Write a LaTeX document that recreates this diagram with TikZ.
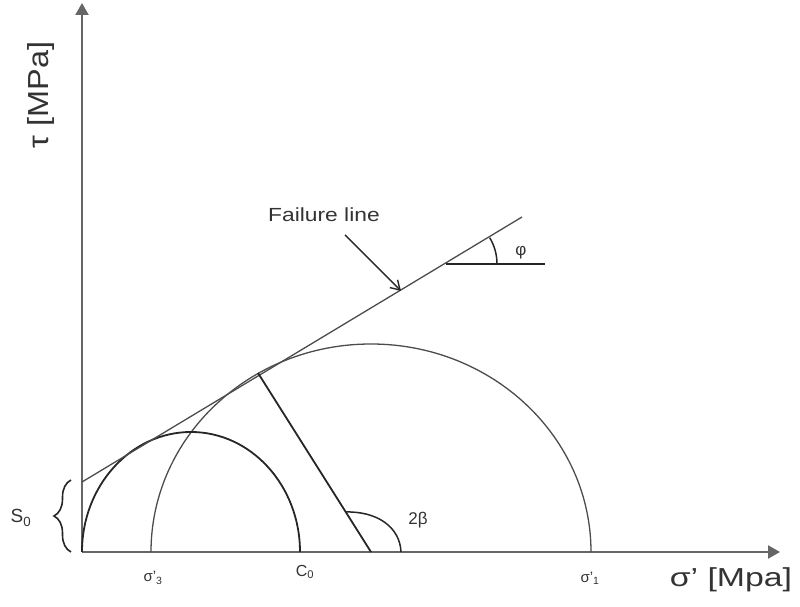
\documentclass[tikz,border=0pt]{standalone}
\usepackage{fontspec}
\setmainfont{Liberation Sans}
\usetikzlibrary{arrows.meta,decorations.pathreplacing}
\begin{document}
\begin{tikzpicture}[x=1pt,y=1pt,
  axis/.style={draw=black!60,line width=2.2pt},
  thin/.style={draw=black!70,line width=1.3pt},
  dark/.style={draw=black!85,line width=1.8pt},
  lbl/.style={inner sep=0pt,text=black!80}]
\useasboundingbox (0,0) rectangle (800,607);
% axes
\coordinate (O) at (82,55);
\coordinate (Ytop) at (82,604);
\coordinate (Xend) at (780,55);
\draw[axis,-{Triangle[length=12pt,width=13pt]}] (O) -- (Xend);
\draw[axis,-{Triangle[length=12pt,width=13pt]}] (O) -- (Ytop);
% circles
\coordinate (Cs) at (191,55);
\coordinate (Cb) at (371,55);
\draw[thin] (Cb) ++(220,0) arc[start angle=0,end angle=180,x radius=220,y radius=208];
\draw[dark] (Cs) ++(109,0) arc[start angle=0,end angle=180,x radius=109,y radius=120];
% failure line
\coordinate (FA) at (82,125);
\coordinate (FB) at (522,390);
\draw[thin] (FA) -- (FB);
% radius to tangent point
\coordinate (T) at (258,234);
\draw[dark] (T) -- (Cb);
% 2beta arc
\coordinate (Ba) at (401,55);
\coordinate (Bb) at (345,95);
\draw[dark,line width=1.5pt] (Ba) .. controls (400,80) and (377,96) .. (Bb);
\node[lbl,font=\fontsize{17}{17}\selectfont] (beta) at (418,87) {2β};
% phi
\coordinate (P) at (446,343);
\coordinate (Pe) at (545,343);
\draw[dark,line width=1.5pt] (P) -- (Pe);
\draw[dark,line width=1.5pt] (497,343) arc[start angle=0,end angle=31,radius=51];
\node[lbl,font=\fontsize{17}{17}\selectfont] (phi) at (521,354) {φ};
% failure line label and arrow
\node[lbl,font=\fontsize{19}{19}\selectfont] (fl) at (324,392) {\scalebox{1.2}[1]{Failure line}};
\coordinate (fa1) at (345,372);
\coordinate (fa2) at (401,316);
\draw[dark,line width=1.4pt,-{Straight Barb[length=9pt,width=11pt]}] (fa1) -- (fa2);
% S0 brace
\coordinate (sb1) at (71,55);
\coordinate (sb2) at (71,127);
\draw[dark,line width=1.6pt,decorate,decoration={brace,amplitude=17pt}] (sb1) -- (sb2);
\node[lbl,font=\fontsize{19}{19}\selectfont] (S0) at (21,89) {S\textsubscript{0}};
% axis labels
\node[lbl,font=\fontsize{15}{15}\selectfont] (s3) at (153,29) {σ’\textsubscript{3}};
\node[lbl,font=\fontsize{16}{16}\selectfont] (c0) at (305,35) {C\textsubscript{0}};
\node[lbl,font=\fontsize{15}{15}\selectfont] (s1) at (590,29) {σ’\textsubscript{1}};
\node[lbl,font=\fontsize{26}{26}\selectfont] (xl) at (731,27) {\scalebox{1.3}[1]{σ’ [Mpa]}};
\node[lbl,font=\fontsize{29}{29}\selectfont,rotate=90] (yl) at (41,512) {\scalebox{1.12}[1]{τ [MPa]}};
\end{tikzpicture}
\end{document}
